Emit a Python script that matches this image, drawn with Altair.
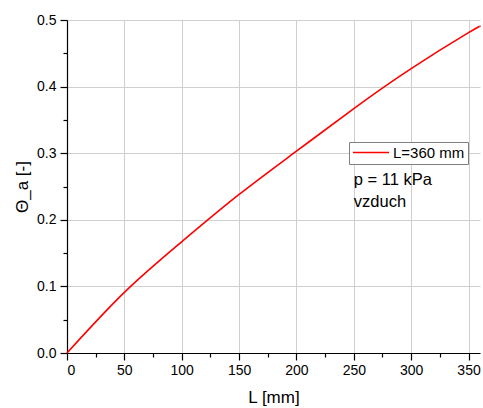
import altair as alt
import pandas as pd

# Relative air-gap value Θ_a along the length L
length_mm = [0, 50, 100, 150, 200, 250, 300, 350, 360]
theta_a = [0.0, 0.091, 0.167, 0.238, 0.303, 0.367, 0.427, 0.481, 0.490]
series_name = "L=360 mm"

notes_x = [250, 250]
notes_y = [0.260, 0.227]
notes_text = ["p = 11 kPa", "vzduch"]

x_major = [0, 50, 100, 150, 200, 250, 300, 350]
x_minor = [25, 75, 125, 175, 225, 275, 325]
y_major = [0.0, 0.1, 0.2, 0.3, 0.4, 0.5]
y_minor = [0.05, 0.15, 0.25, 0.35, 0.45]

FONT = "Liberation Sans"

curve = pd.DataFrame({"L": length_mm, "theta": theta_a, "series": series_name})
notes = pd.DataFrame({"L": notes_x, "theta": notes_y, "text": notes_text})

x_scale = alt.Scale(domain=[0, 360], nice=False, zero=False)
y_scale = alt.Scale(domain=[0, 0.5], nice=False)

line = alt.Chart(curve).mark_line(strokeWidth=1.6, interpolate="natural").encode(
    x=alt.X(
        "L:Q",
        scale=x_scale,
        axis=alt.Axis(
            title="L [mm]", values=x_major, orient="bottom",
            tickSize=7, labelPadding=3, titlePadding=12,
        ),
    ),
    y=alt.Y(
        "theta:Q",
        scale=y_scale,
        axis=alt.Axis(
            title="Θ_a [-]", values=y_major, format=".1f", orient="left",
            tickSize=7, labelPadding=4, titlePadding=5,
        ),
    ),
    color=alt.Color(
        "series:N",
        scale=alt.Scale(domain=[series_name], range=["#ff0000"]),
        legend=alt.Legend(
            title=None,
            orient="none",
            legendX=282,
            legendY=122,
            strokeColor="#808080",
            fillColor="white",
            padding=3,
            clipHeight=15,
            symbolType="stroke",
            symbolSize=1300,
            symbolStrokeWidth=1.6,
            labelFontSize=15,
            labelFont=FONT,
            labelColor="#000000",
            labelOffset=3,
        ),
    ),
)

# Minor ticks: same scales, short ticks, no labels or grid
minor = alt.Chart(curve).mark_line(opacity=0).encode(
    x=alt.X(
        "L:Q", scale=x_scale,
        axis=alt.Axis(
            title=None, values=x_minor, labels=False, grid=False,
            domain=False, tickSize=4, orient="bottom",
        ),
    ),
    y=alt.Y(
        "theta:Q", scale=y_scale,
        axis=alt.Axis(
            title=None, values=y_minor, labels=False, grid=False,
            domain=False, tickSize=4, orient="left",
        ),
    ),
)

text = alt.Chart(notes).mark_text(
    align="left", baseline="middle", fontSize=16.5, font=FONT, color="#000000"
).encode(
    x=alt.X("L:Q", scale=x_scale, axis=None),
    y=alt.Y("theta:Q", scale=y_scale, axis=None),
    text="text:N",
)

chart = (
    alt.layer(line, minor, text)
    .resolve_axis(x="independent", y="independent")
    .properties(
        width=413,
        height=333,
        autosize=alt.AutoSizeParams(type="none"),
        padding={"left": 67, "top": 20, "right": 3, "bottom": 55},
        background="white",
    )
    .configure_view(stroke=None)
    .configure_axis(
        domainColor="#000000",
        domainWidth=1.2,
        tickColor="#000000",
        tickWidth=1.2,
        gridColor="#cfcfcf",
        gridWidth=1,
        labelFont=FONT,
        labelFontSize=14,
        labelColor="#000000",
        titleFont=FONT,
        titleFontSize=17,
        titleFontWeight="normal",
        titleColor="#000000",
    )
)

chart.save("out.html", embed_options={"renderer": "svg", "actions": False})
